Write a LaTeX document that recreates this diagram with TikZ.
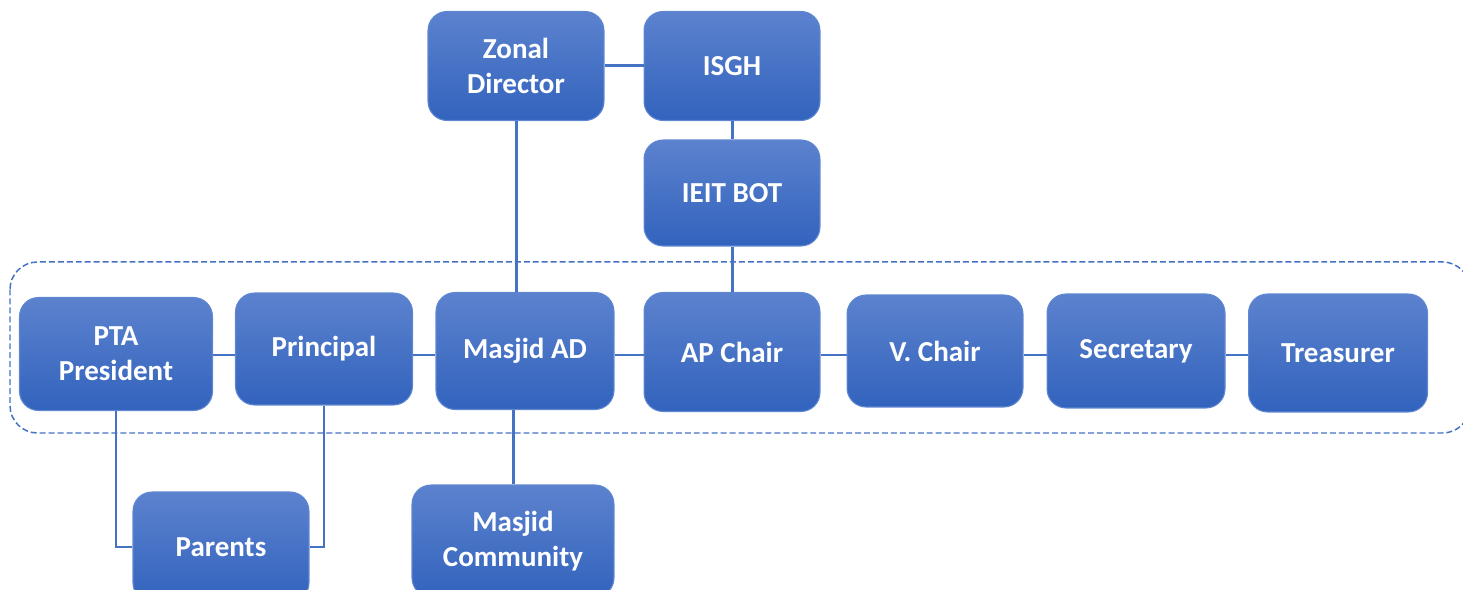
\documentclass[tikz,border=0pt]{standalone}
\usepackage{fontspec}
\setmainfont{Carlito}
\definecolor{boxtop}{RGB}{92,130,206}
\definecolor{boxbot}{RGB}{50,99,189}
\definecolor{boxline}{RGB}{96,135,210}
\definecolor{linkblue}{RGB}{68,114,196}
\begin{document}
\begin{tikzpicture}[x=0.02cm,y=-0.02cm,
  unit/.style={draw=boxline,line width=0.6pt,rounded corners=0.38cm,top color=boxtop,bottom color=boxbot,
    text=white,font=\fontsize{16.5}{20}\selectfont\bfseries,align=center,inner sep=0pt},
  link/.style={linkblue,line width=1.7pt}]
\useasboundingbox (0,0) rectangle (1463,590);
% board outline
\draw[linkblue,line width=0.85pt,dash pattern=on 3.4pt off 1.7pt,rounded corners=0.55cm](10,262) rectangle (1470,433);
% top
\node[unit,minimum width=3.52cm,minimum height=2.18cm](zonal) at (516,66) {Zonal\\Director};
\node[unit,minimum width=3.52cm,minimum height=2.18cm](isgh) at (732,66) {ISGH};
\node[unit,minimum width=3.52cm,minimum height=2.12cm](ieit) at (732,193) {IEIT BOT};
% row in the dashed box
\node[unit,minimum width=3.86cm,minimum height=2.26cm](pta) at (116,354) {PTA\\President};
\node[unit,minimum width=3.54cm,minimum height=2.24cm](principal) at (324,349) {Principal};
\node[unit,minimum width=3.56cm,minimum height=2.34cm](masjidad) at (525,351) {Masjid AD};
\node[unit,minimum width=3.52cm,minimum height=2.38cm](apchair) at (732,352) {AP Chair};
\node[unit,minimum width=3.52cm,minimum height=2.24cm](vchair) at (935,351) {V. Chair};
\node[unit,minimum width=3.56cm,minimum height=2.28cm](secretary) at (1136,351) {Secretary};
\node[unit,minimum width=3.58cm,minimum height=2.36cm](treasurer) at (1338,353) {Treasurer};
% bottom
\node[unit,minimum width=3.52cm,minimum height=2.2cm](parents) at (221,547) {Parents};
\node[unit,minimum width=4.04cm,minimum height=2.24cm](masjidcomm) at (513,541) {Masjid\\Community};
\coordinate (row) at (0,355);
\draw[link](zonal)--(isgh);
\draw[link](isgh)--(ieit);
\draw[link](ieit)--(apchair);
\draw[link](zonal.south)--(zonal.south|-masjidad.north);
\draw[link](masjidcomm.north)--(masjidcomm.north|-masjidad.south);
\foreach \a/\b in {pta/principal,principal/masjidad,masjidad/apchair,apchair/vchair,vchair/secretary,secretary/treasurer}
  \draw[link](\a.east|-row)--(\b.west|-row);
\draw[link](pta.south)|-(parents.west);
\draw[link](principal.south)|-(parents.east);
\end{tikzpicture}
\end{document}
